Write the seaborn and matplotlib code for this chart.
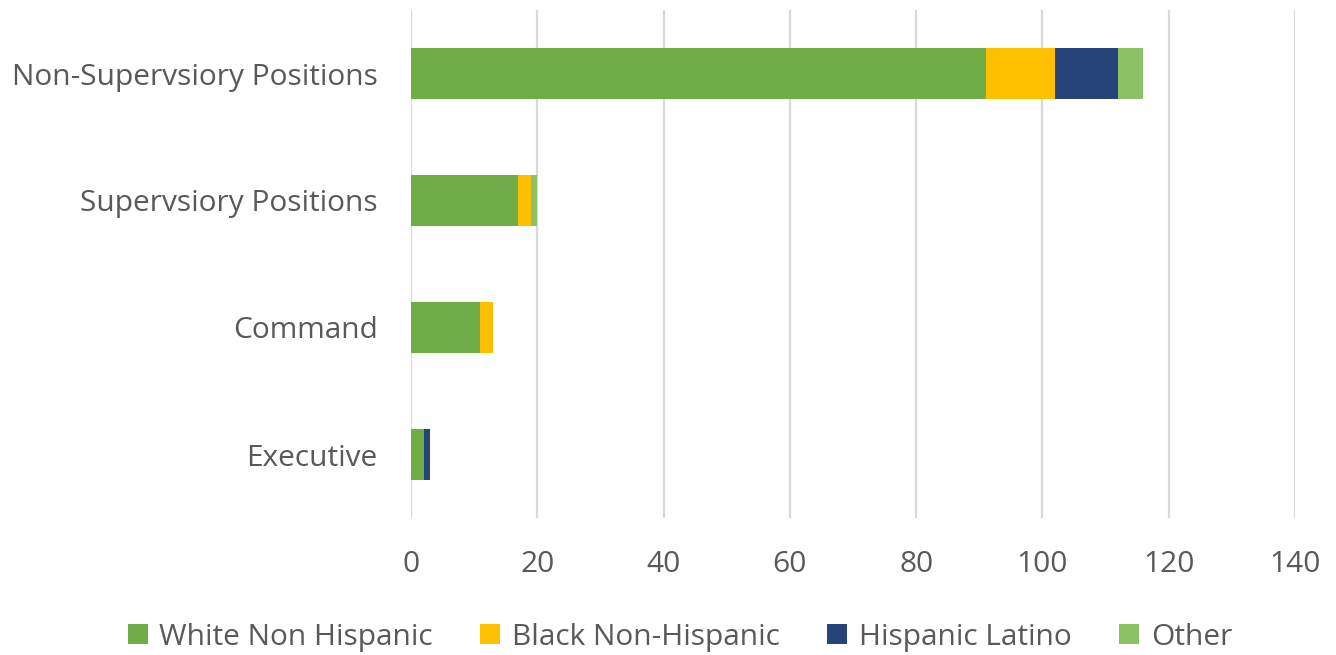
import pandas as pd
import matplotlib.pyplot as plt
import seaborn as sns
from matplotlib.patches import Patch

# Dados
categorias = ["Non-Supervsiory Positions", "Supervsiory Positions", "Command", "Executive"]
series = ["White Non Hispanic", "Black Non-Hispanic", "Hispanic Latino", "Other"]
white = [91, 17, 11, 2]
black = [11, 2, 2, 0]
hispanic = [10, 0, 0, 1]
other = [4, 1, 0, 0]
xticks = [0, 20, 40, 60, 80, 100, 120, 140]

cores = ["#70AD47", "#FFC000", "#264478", "#8DC165"]
texto = "#595959"

sns.set_theme(style="white")
plt.rcParams['font.family'] = ['Open Sans', 'DejaVu Sans']

df = pd.DataFrame({
    "categoria": categorias,
    series[0]: white,
    series[1]: black,
    series[2]: hispanic,
    series[3]: other,
})

# Empilhamento: soma acumulada, desenha do maior para o menor
acum = df[series].cumsum(axis=1)
acum["categoria"] = df["categoria"]

fig = plt.figure(figsize=(13.36, 6.55), dpi=100)
ax = fig.add_axes([411 / 1336, 1 - 518 / 655, 884 / 1336, 508 / 655])

for nome, cor in reversed(list(zip(series, cores))):
    sns.barplot(data=acum, x=nome, y="categoria", order=categorias, color=cor,
                orient="h", width=0.4, saturation=1, linewidth=0, ax=ax, zorder=3)

ax.set_xlim(0, 140)
ax.set_xticks(xticks)
ax.set_xlabel("")
ax.set_ylabel("")
ax.grid(axis="x", color="#D9D9D9", linewidth=1.6, zorder=0)
ax.grid(axis="y", visible=False)
for s in ax.spines.values():
    s.set_visible(False)
ax.tick_params(axis="both", length=0, labelsize=21.5, labelcolor=texto)
ax.tick_params(axis="x", pad=23)
ax.tick_params(axis="y", pad=24)

handles = [Patch(facecolor=c, edgecolor="none", label=n) for n, c in zip(series, cores)]
fig.legend(handles=handles, loc="lower center", bbox_to_anchor=(0.509, -0.036), ncol=4,
           frameon=False, fontsize=21.5, labelcolor=texto, handlelength=0.67,
           handleheight=0.67, handletextpad=0.4, columnspacing=1.58)

fig.savefig("out.png", dpi=100)
plt.close(fig)
